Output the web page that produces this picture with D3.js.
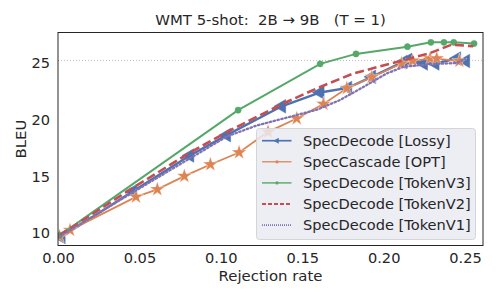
<!DOCTYPE html>
<html><head><meta charset="utf-8">
<script src="https://cdn.jsdelivr.net/npm/d3@7"></script>
<style>body{margin:0;background:#fff}svg{font-family:"DejaVu Sans",sans-serif}</style>
</head><body><svg id="c" width="500" height="300"></svg>
<script>
const title = "WMT 5-shot:  2B \u2192 9B   (T = 1)";
const xTicks = [0.00, 0.05, 0.10, 0.15, 0.20, 0.25];
const yTicks = [10, 15, 20, 25];
const refLine = 25.25;

const lossyX = [0.002, 0.046, 0.081, 0.1036, 0.1374, 0.161, 0.178, 0.1927, 0.212, 0.215, 0.2245, 0.2316, 0.2449, 0.2504];
const lossyY = [9.65, 13.7, 16.85, 18.65, 21.2, 22.42, 22.82, 23.8, 25.12, 25.3, 24.98, 24.98, 25.42, 25.2];
const cascX = [0.001, 0.0074, 0.0479, 0.061, 0.0776, 0.0936, 0.1112, 0.129, 0.1466, 0.163, 0.1774, 0.1927, 0.211, 0.2178, 0.2285, 0.2326, 0.2465];
const cascY = [9.7, 10.26, 13.2, 13.86, 15.03, 16.06, 17.12, 18.94, 20.12, 21.4, 22.8, 23.77, 24.98, 25.22, 25.42, 25.42, 25.2];
const v3X = [0.001, 0.1106, 0.161, 0.183, 0.2146, 0.229, 0.237, 0.243, 0.2555];
const v3Y = [9.8, 20.86, 24.95, 25.83, 26.47, 26.85, 26.85, 26.85, 26.74];
const v2X = [0.001, 0.046, 0.081, 0.104, 0.137, 0.16, 0.1814, 0.2285, 0.2418, 0.255];
const v2Y = [9.8, 14.0, 17.1, 18.95, 21.35, 22.85, 24.1, 25.9, 26.65, 26.5];
const v1X = [0.001, 0.046, 0.081, 0.104, 0.122, 0.159, 0.173, 0.1875, 0.2019, 0.212, 0.2265, 0.245, 0.25];
const v1Y = [9.7, 13.6, 16.6, 18.55, 19.5, 20.9, 21.74, 22.9, 24.1, 24.68, 24.9, 25.03, 25.4];

const names = ["SpecDecode [Lossy]", "SpecCascade [OPT]", "SpecDecode [TokenV3]", "SpecDecode [TokenV2]", "SpecDecode [TokenV1]"];
const colors = ["#4c72b0", "#dd8452", "#55a868", "#c44e52", "#8172b3"];

const series = [
  {x: lossyX, y: lossyY, name: names[0], color: colors[0], w: 2.4, dash: null, marker: "tri"},
  {x: cascX, y: cascY, name: names[1], color: colors[1], w: 1.8, dash: null, marker: "star"},
  {x: v3X, y: v3Y, name: names[2], color: colors[2], w: 2, dash: null, marker: "circle"},
  {x: v2X, y: v2Y, name: names[3], color: colors[3], w: 2.6, dash: "9,4", marker: null},
  {x: v1X, y: v1Y, name: names[4], color: colors[4], w: 2.3, dash: "1.5,2.5", marker: null}
];

const L = 58, R = 483, T = 32.5, B = 245.5;
const FS = 14.6;
const x = d3.scaleLinear().domain([0, 0.261]).range([L, R]);
const y = d3.scaleLinear().domain([8.9, 27.72]).range([B, T]);
const svg = d3.select("#c");

svg.append("line").attr("x1", L).attr("x2", R).attr("y1", y(refLine)).attr("y2", y(refLine))
  .attr("stroke", "#bbb").attr("stroke-width", 1).attr("stroke-dasharray", "1,2");

svg.append("defs").append("clipPath").attr("id", "cl").append("rect")
  .attr("x", L).attr("y", T).attr("width", R - L).attr("height", B - T);
const g = svg.append("g").attr("clip-path", "url(#cl)");

const line = d3.line().x(d => x(d[0])).y(d => y(d[1]));
function markerPath(m, size) {
  if (m === "tri") return d3.symbol(d3.symbolTriangle, size)();
  if (m === "star") return d3.symbol(d3.symbolStar, size)();
  return d3.symbol(d3.symbolCircle, size)();
}
series.forEach(s => {
  const pts = s.x.map((v, i) => [v, s.y[i]]);
  g.append("path").datum(pts).attr("d", line).attr("fill", "none")
    .attr("stroke", s.color).attr("stroke-width", s.w)
    .attr("stroke-dasharray", s.dash).attr("stroke-linecap", s.dash && s.dash.startsWith("1.5") ? "round" : "butt");
  if (s.marker) {
    const size = s.marker === "tri" ? 80 : s.marker === "star" ? 70 : 30;
    g.selectAll(null).data(pts).enter().append("path")
      .attr("d", markerPath(s.marker, size))
      .attr("transform", d => `translate(${x(d[0])},${y(d[1])})` + (s.marker === "tri" ? " rotate(-90)" : ""))
      .attr("fill", s.color).attr("stroke", s.marker === "star" ? "#fff" : s.color)
      .attr("stroke-width", s.marker === "star" ? 0.4 : 0.5);
  }
});

// frame
svg.append("rect").attr("x", L).attr("y", T).attr("width", R - L).attr("height", B - T)
  .attr("fill", "none").attr("stroke", "#262626").attr("stroke-width", 1);

// ticks
const xa = svg.append("g").attr("transform", `translate(0,${B})`)
  .call(d3.axisBottom(x).tickValues(xTicks).tickFormat(d3.format(".2f")).tickSize(0).tickPadding(7));
const ya = svg.append("g").attr("transform", `translate(${L},0)`)
  .call(d3.axisLeft(y).tickValues(yTicks).tickFormat(d3.format("d")).tickSize(0).tickPadding(8));
[xa, ya].forEach(a => {
  a.select(".domain").remove();
  a.selectAll("text").attr("font-size", FS).attr("fill", "#262626").attr("font-family", "DejaVu Sans");
});

svg.append("text").attr("x", (L + R) / 2).attr("y", 25).attr("text-anchor", "middle")
  .attr("font-size", FS + 0.3).attr("fill", "#262626").style("white-space", "pre").text(title);
svg.append("text").attr("x", (L + R) / 2).attr("y", 281).attr("text-anchor", "middle")
  .attr("font-size", FS + 0.3).attr("fill", "#262626").text("Rejection rate");
svg.append("text").attr("transform", `translate(26,${(T + B) / 2}) rotate(-90)`).attr("text-anchor", "middle")
  .attr("font-size", FS + 0.3).attr("fill", "#262626").text("BLEU");

// legend
const lg = svg.append("g");
lg.append("rect").attr("x", 256.5).attr("y", 128.5).attr("width", 219).attr("height", 111).attr("rx", 3)
  .attr("fill", "rgba(234,234,242,0.85)").attr("stroke", "#d5d5d5").attr("stroke-width", 1);
series.forEach((s, i) => {
  const cy = 140.7 + i * 21.1;
  lg.append("line").attr("x1", 262).attr("x2", 291.5).attr("y1", cy).attr("y2", cy)
    .attr("stroke", s.color).attr("stroke-width", s.w * 0.7).attr("stroke-dasharray", s.dash ? (s.dash.startsWith("1.5") ? "1,1" : "4,2") : null);
  if (s.marker) {
    lg.append("path").attr("d", markerPath(s.marker === "tri" ? "tri" : "circle", s.marker === "tri" ? 16 : 8))
      .attr("transform", `translate(277,${cy})` + (s.marker === "tri" ? " rotate(-90)" : ""))
      .attr("fill", s.color);
  }
  lg.append("text").attr("x", 303).attr("y", cy).attr("dy", "0.35em").attr("font-size", FS)
    .attr("fill", "#262626").text(s.name);
});
</script></body></html>
